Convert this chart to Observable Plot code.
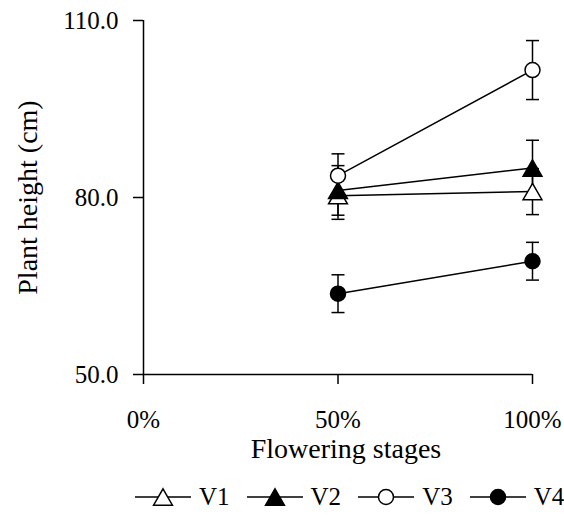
<!DOCTYPE html>
<html><head><meta charset="utf-8">
<script src="https://cdn.jsdelivr.net/npm/d3@7"></script>
<script src="https://cdn.jsdelivr.net/npm/@observablehq/plot@0.6"></script>
<style>
html,body{margin:0;padding:0;background:#fff;}
body{width:564px;height:516px;overflow:hidden;font-family:"Liberation Serif","Times New Roman",serif;color:#000;}
#legend{display:flex;align-items:center;margin-left:135px;padding-top:22px;height:30px;font-size:25px;line-height:30px;}
.item{display:flex;align-items:center;margin-right:17px;}
.item svg{margin-right:8px;}
</style></head><body><div id="chart"></div><div id="legend"></div>
<script>
const stages = [50, 100];
const stageTicks = [0, 50, 100];
const heightTicks = [50, 80, 110];
const varieties = ["V1", "V2", "V3", "V4"];
const v1Height = [80.3, 81.0];
const v1Err = [4.0, 3.9];
const v2Height = [81.2, 85.0];
const v2Err = [4.2, 4.7];
const v3Height = [83.7, 101.6];
const v3Err = [3.7, 5.0];
const v4Height = [63.7, 69.2];
const v4Err = [3.2, 3.2];

const heights = [v1Height, v2Height, v3Height, v4Height];
const errs = [v1Err, v2Err, v3Err, v4Err];
const fills = {V1: "white", V2: "black", V3: "white", V4: "black"};
const shapes = {V1: "triangle", V2: "triangle", V3: "circle", V4: "circle"};

const rows = [];
varieties.forEach((v, i) => stages.forEach((s, j) => rows.push({variety: v, stage: s, h: heights[i][j], e: errs[i][j]})));
const tri = rows.filter(d => shapes[d.variety] === "triangle");
const circ = rows.filter(d => shapes[d.variety] === "circle");

const cap = {draw(ctx) { ctx.moveTo(-6.5, 0); ctx.lineTo(6.5, 0); }};

const chart = Plot.plot({
  width: 564, height: 460,
  marginLeft: 143, marginRight: 32, marginTop: 20, marginBottom: 86,
  style: {fontFamily: "Liberation Serif, Times New Roman, serif", fontSize: "25px", color: "black", background: "white", overflow: "visible"},
  x: {domain: [0, 100], nice: false},
  y: {domain: [50, 110], nice: false},
  marks: [
    Plot.ruleX([0], {stroke: "black", strokeWidth: 1.5}),
    Plot.ruleY([50], {stroke: "black", strokeWidth: 1.5}),
    Plot.axisY({ticks: heightTicks, tickFormat: d3.format(".1f"), tickSize: 10, tickPadding: 15, label: null, strokeWidth: 1.5}),
    Plot.axisX({ticks: stageTicks, tickFormat: d => d + "%", tickSize: 10, tickPadding: 26, label: null, strokeWidth: 1.5}),
    Plot.text(["Flowering stages"], {frameAnchor: "bottom", dy: 64, dx: 8, lineAnchor: "top", fill: "black", fontSize: 28}),
    Plot.text(["Plant height (cm)"], {frameAnchor: "left", textAnchor: "middle", dx: -115, rotate: -90, fill: "black", fontSize: 28}),
    Plot.ruleX(rows, {x: "stage", y1: d => d.h - d.e, y2: d => d.h + d.e, stroke: "black", strokeWidth: 1.5}),
    Plot.dot(rows, {x: "stage", y: d => d.h + d.e, symbol: cap, stroke: "black", strokeWidth: 1.5, fill: "none"}),
    Plot.dot(rows, {x: "stage", y: d => d.h - d.e, symbol: cap, stroke: "black", strokeWidth: 1.5, fill: "none"}),
    Plot.line(rows, {x: "stage", y: "h", z: "variety", stroke: "black", strokeWidth: 1.5}),
    Plot.dot(tri, {x: "stage", y: "h", symbol: "triangle", r: 7, dy: 2.7, fill: d => fills[d.variety], stroke: "black", strokeWidth: 1.5}),
    Plot.dot(circ, {x: "stage", y: "h", symbol: "circle", r: 7.5, fill: d => fills[d.variety], stroke: "black", strokeWidth: 1.5})
  ]
});
document.getElementById("chart").appendChild(chart);

const legend = document.getElementById("legend");
varieties.forEach(v => {
  const item = document.createElement("div");
  item.className = "item";
  const svg = d3.create("svg").attr("width", 56).attr("height", 30);
  svg.append("line").attr("x1", 0).attr("x2", 56).attr("y1", 15).attr("y2", 15).attr("stroke", "black").attr("stroke-width", 1.5);
  const isTri = shapes[v] === "triangle";
  const size = isTri ? Math.PI * 49 : Math.PI * 56.25;
  svg.append("path").attr("d", d3.symbol(isTri ? d3.symbolTriangle : d3.symbolCircle, size)())
    .attr("transform", `translate(28,${isTri ? 17.7 : 15})`)
    .attr("fill", fills[v]).attr("stroke", "black").attr("stroke-width", 1.5);
  item.appendChild(svg.node());
  const t = document.createElement("span");
  t.textContent = v;
  item.appendChild(t);
  legend.appendChild(item);
});
</script>
</body></html>
